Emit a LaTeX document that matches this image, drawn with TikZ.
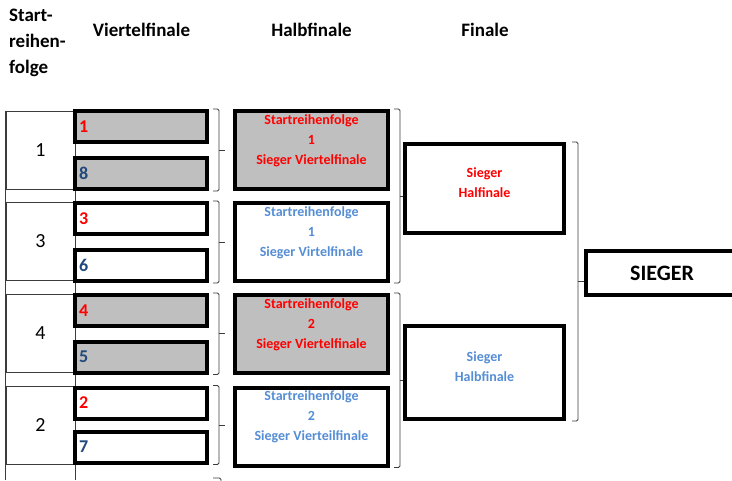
\documentclass[tikz,border=0pt]{standalone}
\usepackage{fontspec}
\setmainfont{Carlito}
\usetikzlibrary{calc}

\definecolor{rotstart}{RGB}{255,0,0}
\definecolor{dunkelblau}{RGB}{31,73,125}
\definecolor{hellblau}{RGB}{85,142,213}
\definecolor{grau}{RGB}{191,191,191}
\definecolor{linie}{RGB}{60,60,60}

\tikzset{
  kopf/.style={inner sep=0pt, font=\bfseries\fontsize{19}{26}\selectfont},
  seedcell/.style={draw=linie, line width=0.8pt, minimum width=69pt, minimum height=78pt, inner sep=0pt, font=\fontsize{20}{24}\selectfont},
  qfbox/.style={draw, line width=4pt, minimum width=132pt, minimum height=31pt, inner sep=0pt, text width=124pt, align=left, font=\bfseries\fontsize{18}{18}\selectfont},
  sfbox/.style={draw, line width=4pt, minimum width=153pt, minimum height=78pt, inner sep=0pt},
  finbox/.style={draw, line width=4pt, minimum width=159pt, inner sep=0pt},
  boxtext/.style={align=center, inner sep=0pt, font=\bfseries\fontsize{14}{20}\selectfont},
  brk/.style={draw=linie, line width=0.8pt, rounded corners=1.5pt},
}

\begin{document}
\begin{tikzpicture}[x=1pt,y=1pt,yscale=-1,xscale=1]
        %set diagram to 732 x 480
        \fill[white] (0,0) rectangle (732,480);
        \useasboundingbox (0,0) rectangle (732,480);
        \coordinate (unten) at (0,480);

        % Text Node
        \node[kopf, align=left, anchor=north west] (startkopf) at (9,9) {Start-\\reihen-\\folge};
        % Text Node
        \node[kopf] (vfkopf) at (141.5,30) {Viertelfinale};
        % Text Node
        \node[kopf] (hfkopf) at (311.5,30) {Halbfinale};
        % Text Node
        \node[kopf] (fkopf) at (485,30) {Finale};

        %Shape: Rectangle [seed column]
        \node[seedcell] (s1) at (40.5,150) {1};
        \node[seedcell] (s3) at (40.5,241.5) {3};
        \node[seedcell] (s4) at (40.5,333.5) {4};
        \node[seedcell] (s2) at (40.5,425.5) {2};
        %Straight Lines
        \draw[brk] (s1.north west) -- (s1.north west |- unten) ;
        \draw[brk] (s1.north east) -- (s1.north east |- unten) ;

        %Shape: Rectangle [Viertelfinale]
        \node[qfbox, fill=grau, text=rotstart] (q1) at (141,126.5) {1};
        \node[qfbox, fill=grau, text=dunkelblau] (q8) at (141,173.5) {8};
        \node[qfbox, fill=white, text=rotstart] (q3) at (141,218.5) {3};
        \node[qfbox, fill=white, text=dunkelblau] (q6) at (141,265.5) {6};
        \node[qfbox, fill=grau, text=rotstart] (q4) at (141,310.5) {4};
        \node[qfbox, fill=grau, text=dunkelblau] (q5) at (141,357) {5};
        \node[qfbox, fill=white, text=rotstart] (q2) at (141,403) {2};
        \node[qfbox, fill=white, text=dunkelblau] (q7) at (141,447) {7};

        %Shape: Bracket
        \draw[brk] ([xshift=4pt]q1.north east) -| ([xshift=10pt]q8.south east) -- ([xshift=4pt]q8.south east) ;
        \draw[brk] ($(q1.north east)!.5!(q8.south east)+(10,0)$) -- ++(6,0) ;
        \draw[brk] ([xshift=4pt]q3.north east) -| ([xshift=10pt]q6.south east) -- ([xshift=4pt]q6.south east) ;
        \draw[brk] ($(q3.north east)!.5!(q6.south east)+(10,0)$) -- ++(6,0) ;
        \draw[brk] ([xshift=4pt]q4.north east) -| ([xshift=10pt]q5.south east) -- ([xshift=4pt]q5.south east) ;
        \draw[brk] ($(q4.north east)!.5!(q5.south east)+(10,0)$) -- ++(6,0) ;
        \draw[brk] ([xshift=4pt]q2.north east) -| ([xshift=10pt]q7.south east) -- ([xshift=4pt]q7.south east) ;
        \draw[brk] ($(q2.north east)!.5!(q7.south east)+(10,0)$) -- ++(6,0) ;
        \draw[brk] (213,478) -- (221,478) -- (221,482) ;

        %Shape: Rectangle [Halbfinale]
        \node[sfbox, fill=grau] (sa) at (311.5,150) {};
        \node[sfbox, fill=white] (sb) at (311.5,242) {};
        \node[sfbox, fill=grau] (sc) at (311.5,334) {};
        \node[sfbox, fill=white] (sd) at (311.5,426.5) {};
        % Text Node
        \node[boxtext, text=rotstart, anchor=north] (ta) at ($(sa.north)+(0,5)$) {Startreihenfolge\\1\\Sieger Viertelfinale};
        % Text Node
        \node[boxtext, text=hellblau, anchor=north] (tb) at ($(sb.north)+(0,5)$) {Startreihenfolge\\1\\Sieger Virtelfinale};
        % Text Node
        \node[boxtext, text=rotstart, anchor=north] (tc) at ($(sc.north)+(0,5)$) {Startreihenfolge\\2\\Sieger Viertelfinale};
        % Text Node
        \node[boxtext, text=hellblau, anchor=north] (td) at ($(sd.north)+(0,5)$) {Startreihenfolge\\2\\Sieger Vierteilfinale};

        %Shape: Bracket
        \draw[brk] ([xshift=4pt]sa.north east) -| ([xshift=10pt]sb.south east) -- ([xshift=4pt]sb.south east) ;
        \draw[brk] ($(sa.north east)!.5!(sb.south east)+(10,0)$) -- ++(6,0) ;
        \draw[brk] ([xshift=4pt]sc.north east) -| ([xshift=10pt]sd.south east) -- ([xshift=4pt]sd.south east) ;
        \draw[brk] ($(sc.north east)!.5!(sd.south east)+(10,0)$) -- ++(6,0) ;

        %Shape: Rectangle [Finale]
        \node[finbox, minimum height=89pt] (f1) at (484.5,188.5) {};
        \node[finbox, minimum height=93pt] (f2) at (484.5,372.5) {};
        % Text Node
        \node[boxtext, text=rotstart] (tf1) at ($(f1.center)+(0,-6)$) {Sieger\\Halfinale};
        % Text Node
        \node[boxtext, text=hellblau] (tf2) at ($(f2.center)+(0,-6)$) {Sieger\\Halbfinale};

        %Shape: Rectangle [Sieger]
        \node[draw, line width=4pt, minimum width=152pt, minimum height=44pt, inner sep=0pt, font=\bfseries\fontsize{22}{24}\selectfont] (sieger) at (662,273) {SIEGER};

        %Shape: Bracket
        \draw[brk] ([xshift=6pt]f1.north east) -| ([xshift=12pt]f2.south east) -- ([xshift=6pt]f2.south east) ;
        \coordinate (fmitte) at ($(f1.north east)!.5!(f2.south east)+(12,0)$) ;
        \draw[brk] (fmitte) -- (fmitte -| sieger.west) ;

\end{tikzpicture}
\end{document}
